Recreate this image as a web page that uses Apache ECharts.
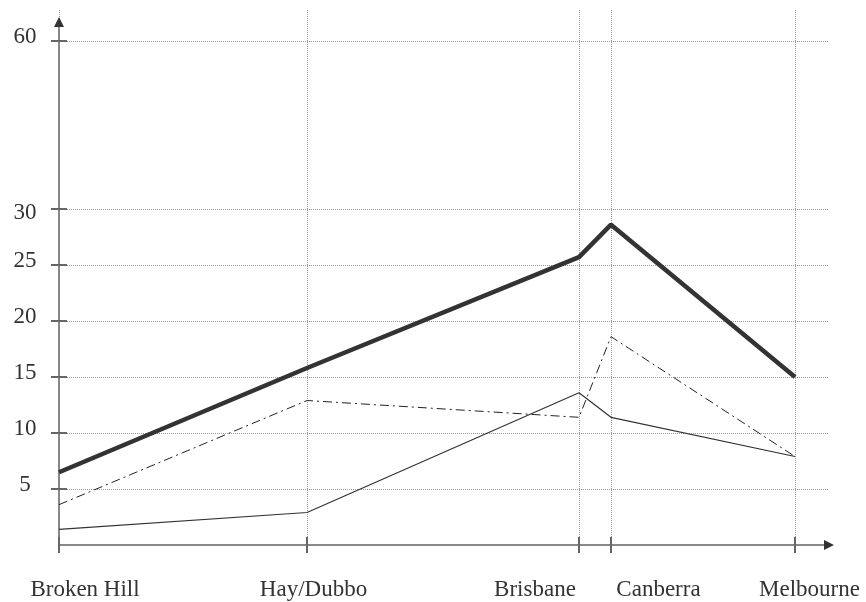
<!DOCTYPE html>
<html>
<head>
<meta charset="utf-8">
<script src="https://cdn.jsdelivr.net/npm/echarts@6/dist/echarts.min.js"></script>
<style>
html,body{margin:0;padding:0;background:#fff;}
#chart{width:866px;height:602px;}
</style>
</head>
<body>
<div id="chart"></div>
<script>
// ---- data ----
const categories = ['Broken Hill', 'Hay/Dubbo', 'Brisbane', 'Canberra', 'Melbourne'];
const categoryPositions = [0, 248, 520, 552, 736];
const thickSeries = [6.5, 15.8, 25.7, 28.6, 15.0];
const dashDotSeries = [3.6, 12.9, 11.4, 18.6, 7.9];
const thinSeries = [1.4, 2.9, 13.6, 11.4, 7.9];
const yTickValues = [5, 10, 15, 20, 25, 30, 45];
const yTickLabels = ['5', '10', '15', '20', '25', '30', '60'];

// ---- options ----
const FONT = 'Liberation Serif';
const toPairs = vals => vals.map((v, i) => [categoryPositions[i], v]);
const xRich = {
  c0: {padding: [0, 0, 0, 52]},
  c1: {padding: [0, 0, 0, 13]},
  c2: {padding: [0, 88, 0, 0]},
  c3: {padding: [0, 0, 0, 95]},
  c4: {padding: [0, 0, 0, 29]}
};
Object.keys(xRich).forEach(k => Object.assign(xRich[k], {fontFamily: FONT, fontSize: 23, color: '#333'}));
const yRich = {
  u: {padding: [0, 0, 8, 0], fontFamily: FONT, fontSize: 23, color: '#333'},
  d: {padding: [8, 0, 0, 0], fontFamily: FONT, fontSize: 23, color: '#333'}
};
const xMin = 0, xMax = 770, yMin = 0;
// plot grid (taller, for gridlines) and axis grid (ends at arrow)
const plotGrid = {left: 59, right: 37, top: 10, bottom: 57};
const axisGrid = {left: 59, right: 37, top: 22, bottom: 57};
const pxPerUnit = 11.2;
const plotH = 602 - plotGrid.top - plotGrid.bottom;
const axisH = 602 - axisGrid.top - axisGrid.bottom;
const yMaxPlot = plotH / pxPerUnit;
const yMaxAxis = axisH / pxPerUnit;
const gridLine = {show: true, lineStyle: {type: 'dotted', color: '#999', width: 1}};
const tickStyle = {color: '#666', width: 2};

const chart = echarts.init(document.getElementById('chart'), null, {renderer: 'canvas'});
chart.setOption({
  animation: false,
  backgroundColor: '#fff',
  grid: [plotGrid, axisGrid],
  xAxis: [{
    gridIndex: 0, type: 'value', min: xMin, max: xMax, position: 'bottom',
    axisLine: {show: true, onZero: false, lineStyle: {color: '#888', width: 2}},
    axisTick: {show: true, customValues: categoryPositions, length: 8, inside: false, lineStyle: tickStyle},
    axisLabel: {
      show: true, customValues: categoryPositions, margin: 33,
      fontFamily: FONT, fontSize: 23, color: '#333',
      formatter: v => { const i = categoryPositions.indexOf(v); return i < 0 ? '' : '{c' + i + '|' + categories[i] + '}'; },
      rich: xRich
    },
    splitLine: gridLine
  }, {
    gridIndex: 1, type: 'value', min: xMin, max: xMax, position: 'bottom',
    axisLine: {show: true, onZero: false, symbol: ['none', 'triangle'], symbolSize: [10, 10], lineStyle: {color: '#333', width: 0}},
    axisTick: {show: true, customValues: categoryPositions, length: 8, inside: true, lineStyle: tickStyle},
    axisLabel: {show: false},
    splitLine: {show: false}
  }],
  yAxis: [{
    gridIndex: 0, type: 'value', min: yMin, max: yMaxPlot, position: 'left',
    axisLine: {show: false},
    axisTick: {show: true, customValues: yTickValues, length: 8, inside: false, lineStyle: tickStyle},
    axisLabel: {
      show: true, customValues: yTickValues, margin: 34, align: 'center', verticalAlign: 'middle',
      fontFamily: FONT, fontSize: 23, color: '#333',
      formatter: v => { const i = yTickValues.indexOf(v); if (i < 0) return ''; return (yTickLabels[i] === '30' ? '{d|' : '{u|') + yTickLabels[i] + '}'; },
      rich: yRich
    },
    splitLine: gridLine
  }, {
    gridIndex: 1, type: 'value', min: yMin, max: yMaxAxis, position: 'left',
    axisLine: {show: true, onZero: false, lineStyle: {color: '#888', width: 2}},
    axisTick: {show: true, customValues: yTickValues, length: 8, inside: true, lineStyle: tickStyle},
    axisLabel: {show: false},
    splitLine: {show: false}
  }, {
    gridIndex: 1, type: 'value', min: yMin, max: yMaxAxis, position: 'left',
    axisLine: {show: true, onZero: false, symbol: ['none', 'triangle'], symbolSize: [10, 10], lineStyle: {color: '#333', width: 0}},
    axisTick: {show: false},
    axisLabel: {show: false},
    splitLine: {show: false}
  }],
  series: [{
    name: 'thick', type: 'line', xAxisIndex: 0, yAxisIndex: 0,
    data: toPairs(thickSeries), symbol: 'none',
    lineStyle: {color: '#333', width: 4.5}, z: 5
  }, {
    name: 'dashdot', type: 'line', xAxisIndex: 0, yAxisIndex: 0,
    data: toPairs(dashDotSeries), symbol: 'none',
    lineStyle: {color: '#222', width: 1, type: [9, 4, 2, 4]}, z: 4
  }, {
    name: 'thin', type: 'line', xAxisIndex: 0, yAxisIndex: 0,
    data: toPairs(thinSeries), symbol: 'none',
    lineStyle: {color: '#333', width: 1.2}, z: 4
  }]
});
</script>
</body>
</html>
